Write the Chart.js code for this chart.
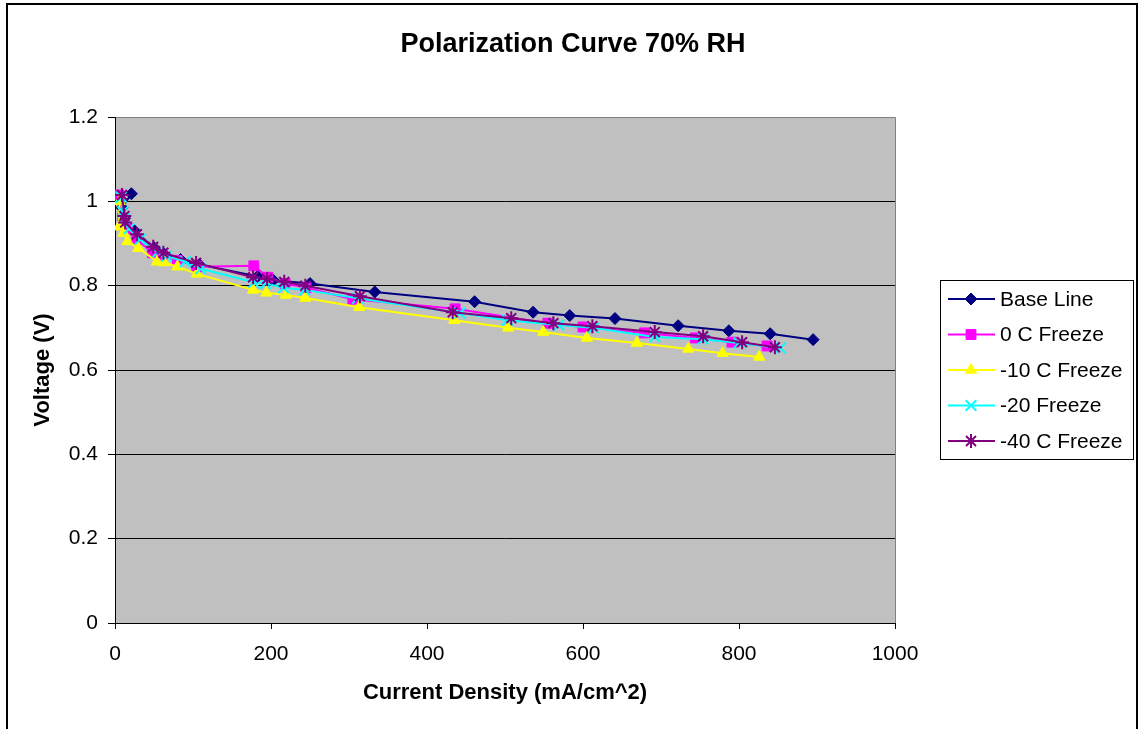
<!DOCTYPE html>
<html>
<head>
<meta charset="utf-8">
<title>Polarization Curve 70% RH</title>
<script src="https://cdn.jsdelivr.net/npm/chart.js@4.4.1/dist/chart.umd.min.js"></script>
<style>
  html, body { margin: 0; padding: 0; background: #fff; }
  #wrap { width: 1139px; height: 729px; }
</style>
</head>
<body>
<div id="wrap"><canvas id="polChart" width="1139" height="729"></canvas></div>
<script>
// ---------- data ----------
const chartTitle = 'Polarization Curve 70% RH';
const seriesNames = ['Base Line', '0 C Freeze', '-10 C Freeze', '-20 Freeze', '-40 C Freeze'];

const baseLineX = [21, 9, 12, 25, 50, 63, 84, 108, 183, 203, 250, 333, 461, 536, 583, 641, 722, 787, 840, 895];
const baseLineY = [1.018, 0.985, 0.96, 0.93, 0.89, 0.875, 0.862, 0.85, 0.822, 0.813, 0.805, 0.785, 0.762, 0.737, 0.729, 0.722, 0.705, 0.693, 0.686, 0.672];

const freeze0X = [5, 10, 16, 28, 48, 60, 80, 105, 178, 196, 218, 245, 305, 436, 555, 600, 679, 744, 791, 836];
const freeze0Y = [1.015, 0.96, 0.935, 0.91, 0.878, 0.872, 0.86, 0.845, 0.847, 0.82, 0.805, 0.795, 0.768, 0.745, 0.711, 0.702, 0.688, 0.676, 0.666, 0.657];

const freeze10X = [6, 5, 11, 16, 30, 54, 63, 80, 105, 177, 194, 219, 244, 313, 435, 504, 549, 605, 669, 735, 779, 826];
const freeze10Y = [1.0, 0.94, 0.925, 0.905, 0.889, 0.857, 0.855, 0.845, 0.828, 0.79, 0.783, 0.778, 0.771, 0.749, 0.718, 0.70, 0.69, 0.676, 0.664, 0.65, 0.64, 0.631];

const freeze20X = [8, 10, 12, 18, 32, 55, 66, 90, 110, 178, 193, 216, 243, 311, 442, 503, 569, 613, 692, 754, 800, 853];
const freeze20Y = [1.01, 0.975, 0.96, 0.935, 0.91, 0.88, 0.87, 0.857, 0.84, 0.808, 0.805, 0.795, 0.79, 0.77, 0.735, 0.718, 0.707, 0.70, 0.678, 0.673, 0.664, 0.652];

const freeze40X = [9, 12, 13, 28, 49, 62, 104, 177, 195, 217, 244, 314, 433, 508, 562, 612, 692, 754, 804, 846];
const freeze40Y = [1.015, 0.965, 0.95, 0.922, 0.892, 0.878, 0.854, 0.82, 0.816, 0.809, 0.80, 0.775, 0.737, 0.723, 0.711, 0.704, 0.69, 0.68, 0.666, 0.654];

const xTicks = [0, 200, 400, 600, 800, 1000];
const yTicks = [0, 0.2, 0.4, 0.6, 0.8, 1, 1.2];

// ---------- styles ----------
const FONT = 'Liberation Sans, Arial, Helvetica, sans-serif';
const styles = [
  { color: '#000080', pointStyle: 'rectRot', radius: 6, bw: 1 },
  { color: '#FF00FF', pointStyle: 'rect', radius: 7, bw: 1 },
  { color: '#FFFF00', pointStyle: 'triangle', radius: 6.5, bw: 1 },
  { color: '#00FFFF', pointStyle: 'crossRot', radius: 7.5, bw: 2 },
  { color: '#800080', pointStyle: 'star', radius: 7, bw: 2 },
];

function pairs(xs, ys) {
  return xs.map((x, i) => ({ x: x, y: ys[i] }));
}
const seriesData = [
  pairs(baseLineX, baseLineY),
  pairs(freeze0X, freeze0Y),
  pairs(freeze10X, freeze10Y),
  pairs(freeze20X, freeze20Y),
  pairs(freeze40X, freeze40Y),
];

// later series sit on top, like in the spreadsheet
const datasets = seriesNames.map((name, i) => ({
  label: name,
  data: seriesData[i],
  order: seriesNames.length - i,
  borderColor: styles[i].color,
  backgroundColor: styles[i].color,
  pointBackgroundColor: styles[i].color,
  pointBorderColor: styles[i].color,
  pointStyle: styles[i].pointStyle,
  pointRadius: styles[i].radius,
  pointBorderWidth: styles[i].bw,
  borderWidth: 2,
  tension: 0,
  showLine: true,
  fill: false,
}));

// ---------- plot frame, gray background, title, custom legend ----------
const excelLook = {
  id: 'excelLook',
  beforeDraw(chart) {
    const { ctx, chartArea: a } = chart;
    ctx.save();
    ctx.fillStyle = '#fff';
    ctx.fillRect(0, 0, chart.width, chart.height);
    ctx.fillStyle = '#C0C0C0';
    ctx.fillRect(a.left, a.top, a.right - a.left, a.bottom - a.top);
    ctx.strokeStyle = '#808080';
    ctx.lineWidth = 1;
    ctx.beginPath();
    ctx.moveTo(a.left, a.top + 0.5);
    ctx.lineTo(a.right + 0.5, a.top + 0.5);
    ctx.lineTo(a.right + 0.5, a.bottom);
    ctx.stroke();
    ctx.restore();
  },
  afterDraw(chart) {
    const ctx = chart.ctx;
    ctx.save();
    // outer border
    ctx.strokeStyle = '#000';
    ctx.lineWidth = 2;
    ctx.strokeRect(7, 4, 1130, 726);

    // title
    ctx.fillStyle = '#000';
    ctx.font = 'bold 27px ' + FONT;
    ctx.textAlign = 'center';
    ctx.textBaseline = 'middle';
    ctx.fillText(chartTitle, 573, 45);

    // legend box
    const lx = 940, ly = 280, lw = 193, lh = 179;
    ctx.lineWidth = 1;
    ctx.strokeStyle = '#000';
    ctx.strokeRect(lx + 0.5, ly + 0.5, lw, lh);
    ctx.font = '21px ' + FONT;
    ctx.textBaseline = 'middle';
    ctx.textAlign = 'left';
    chart.data.datasets.forEach((ds, i) => {
      const y = ly + 19 + i * 35.5;
      ctx.strokeStyle = ds.borderColor;
      ctx.lineWidth = 2;
      ctx.beginPath();
      ctx.moveTo(948, y);
      ctx.lineTo(995, y);
      ctx.stroke();
      ctx.fillStyle = ds.pointBackgroundColor;
      ctx.strokeStyle = ds.pointBorderColor;
      ctx.lineWidth = ds.pointBorderWidth;
      if (Chart.helpers && Chart.helpers.drawPoint) {
        Chart.helpers.drawPoint(ctx, {
          pointStyle: ds.pointStyle, radius: ds.pointRadius,
          rotation: 0, borderWidth: ds.pointBorderWidth
        }, 971, y);
      }
      ctx.fillStyle = '#000';
      ctx.fillText(ds.label, 1000, y + 1);
    });
    ctx.restore();
  }
};

const chart = new Chart(document.getElementById('polChart'), {
  type: 'scatter',
  data: { datasets: datasets },
  options: {
    responsive: false,
    animation: false,
    devicePixelRatio: 1,
    layout: { padding: { left: 0, right: 244, top: 117, bottom: 0 } },
    plugins: {
      legend: { display: false },
      tooltip: { enabled: false },
      title: { display: false },
    },
    scales: {
      x: {
        type: 'linear',
        min: 0,
        max: 1000,
        afterFit: (s) => { s.height = 106; },
        afterBuildTicks: (s) => { s.ticks = xTicks.map((v) => ({ value: v })); },
        ticks: {
          color: '#000',
          font: { family: FONT, size: 21 },
          padding: 13,
          maxRotation: 0,
          callback: (v) => String(v),
        },
        grid: { drawOnChartArea: false, tickLength: 6, tickColor: '#000', tickWidth: 1 },
        border: { color: '#000', width: 1 },
        title: {
          display: true,
          text: 'Current Density (mA/cm^2)',
          color: '#000',
          font: { family: FONT, size: 22, weight: 'bold' },
          padding: { top: 0, bottom: 23 },
        },
      },
      y: {
        type: 'linear',
        min: 0,
        max: 1.2,
        afterFit: (s) => { s.width = 115; },
        afterBuildTicks: (s) => { s.ticks = yTicks.map((v) => ({ value: v })); },
        ticks: {
          color: '#000',
          font: { family: FONT, size: 21 },
          padding: 10,
          callback: (v) => String(Number(v.toFixed(1))),
        },
        grid: {
          color: (c) => (c.tick && c.tick.value >= 1.2 ? '#808080' : '#000'),
          lineWidth: 1,
          tickLength: 7,
          tickColor: '#000',
        },
        border: { color: '#000', width: 1 },
        title: {
          display: true,
          text: 'Voltage (V)',
          color: '#000',
          font: { family: FONT, size: 22, weight: 'bold' },
          padding: { top: 30, bottom: 0 },
        },
      },
    },
  },
  plugins: [excelLook],
});
</script>
</body>
</html>
